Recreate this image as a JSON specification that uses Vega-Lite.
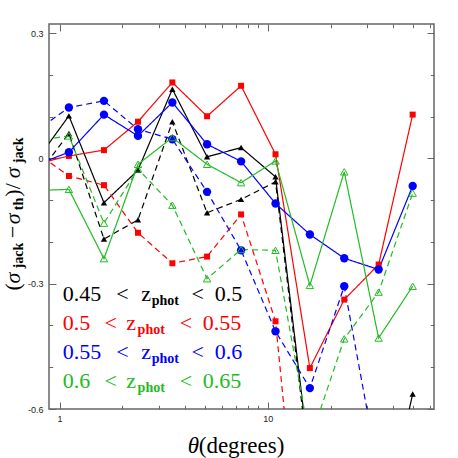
{
  "$schema": "https://vega.github.io/schema/vega-lite/v6.json",
  "width": 385,
  "height": 385,
  "autosize": {"type": "none"},
  "padding": {"left": 49, "top": 24, "right": 24, "bottom": 49},
  "background": "white",
  "config": {
    "view": {"stroke": "#666", "strokeWidth": 1.5},
    "axis": {"domain": false, "grid": false}
  },
  "resolve": {"axis": {"x": "independent", "y": "independent"}},
  "datasets": {
    "series": [
      {"bin": "0.45-0.5", "kind": "solid", "theta": 0.757, "v": -0.012},
      {"bin": "0.45-0.5", "kind": "solid", "theta": 1.109, "v": 0.102},
      {"bin": "0.45-0.5", "kind": "solid", "theta": 1.634, "v": -0.106},
      {"bin": "0.45-0.5", "kind": "solid", "theta": 2.38, "v": -0.028},
      {"bin": "0.45-0.5", "kind": "solid", "theta": 3.481, "v": 0.166},
      {"bin": "0.45-0.5", "kind": "solid", "theta": 5.109, "v": 0.004},
      {"bin": "0.45-0.5", "kind": "solid", "theta": 7.443, "v": 0.026},
      {"bin": "0.45-0.5", "kind": "solid", "theta": 10.89, "v": -0.044},
      {"bin": "0.45-0.5", "kind": "solid", "theta": 15.92, "v": -0.73},
      {"bin": "0.45-0.5", "kind": "solid", "theta": 23.28, "v": -1.1},
      {"bin": "0.45-0.5", "kind": "solid", "theta": 34.05, "v": -0.93},
      {"bin": "0.45-0.5", "kind": "solid", "theta": 49.61, "v": -0.564},
      {"bin": "0.45-0.5", "kind": "dashed", "theta": 0.757, "v": -0.05},
      {"bin": "0.45-0.5", "kind": "dashed", "theta": 1.109, "v": 0.06},
      {"bin": "0.45-0.5", "kind": "dashed", "theta": 1.634, "v": -0.193},
      {"bin": "0.45-0.5", "kind": "dashed", "theta": 2.38, "v": -0.147},
      {"bin": "0.45-0.5", "kind": "dashed", "theta": 3.481, "v": 0.088},
      {"bin": "0.45-0.5", "kind": "dashed", "theta": 5.109, "v": -0.13},
      {"bin": "0.45-0.5", "kind": "dashed", "theta": 7.443, "v": -0.098},
      {"bin": "0.45-0.5", "kind": "dashed", "theta": 10.89, "v": -0.056},
      {"bin": "0.45-0.5", "kind": "dashed", "theta": 15.92, "v": -0.75},
      {"bin": "0.5-0.55", "kind": "solid", "theta": 0.757, "v": -0.014},
      {"bin": "0.5-0.55", "kind": "solid", "theta": 1.109, "v": 0.006},
      {"bin": "0.5-0.55", "kind": "solid", "theta": 1.634, "v": 0.02},
      {"bin": "0.5-0.55", "kind": "solid", "theta": 2.38, "v": 0.088},
      {"bin": "0.5-0.55", "kind": "solid", "theta": 3.481, "v": 0.182},
      {"bin": "0.5-0.55", "kind": "solid", "theta": 5.109, "v": 0.101},
      {"bin": "0.5-0.55", "kind": "solid", "theta": 7.443, "v": 0.174},
      {"bin": "0.5-0.55", "kind": "solid", "theta": 10.89, "v": 0.01},
      {"bin": "0.5-0.55", "kind": "solid", "theta": 15.92, "v": -0.502},
      {"bin": "0.5-0.55", "kind": "solid", "theta": 23.28, "v": -0.338},
      {"bin": "0.5-0.55", "kind": "solid", "theta": 34.05, "v": -0.254},
      {"bin": "0.5-0.55", "kind": "solid", "theta": 49.61, "v": 0.105},
      {"bin": "0.5-0.55", "kind": "dashed", "theta": 0.757, "v": 0.017},
      {"bin": "0.5-0.55", "kind": "dashed", "theta": 1.109, "v": -0.042},
      {"bin": "0.5-0.55", "kind": "dashed", "theta": 1.634, "v": -0.064},
      {"bin": "0.5-0.55", "kind": "dashed", "theta": 2.38, "v": -0.178},
      {"bin": "0.5-0.55", "kind": "dashed", "theta": 3.481, "v": -0.251},
      {"bin": "0.5-0.55", "kind": "dashed", "theta": 5.109, "v": -0.235},
      {"bin": "0.5-0.55", "kind": "dashed", "theta": 7.443, "v": -0.134},
      {"bin": "0.5-0.55", "kind": "dashed", "theta": 10.89, "v": -0.39},
      {"bin": "0.5-0.55", "kind": "dashed", "theta": 15.92, "v": -1.23},
      {"bin": "0.55-0.6", "kind": "solid", "theta": 0.757, "v": -0.017},
      {"bin": "0.55-0.6", "kind": "solid", "theta": 1.109, "v": 0.015},
      {"bin": "0.55-0.6", "kind": "solid", "theta": 1.634, "v": 0.105},
      {"bin": "0.55-0.6", "kind": "solid", "theta": 2.38, "v": 0.054},
      {"bin": "0.55-0.6", "kind": "solid", "theta": 3.481, "v": 0.134},
      {"bin": "0.55-0.6", "kind": "solid", "theta": 5.109, "v": 0.034},
      {"bin": "0.55-0.6", "kind": "solid", "theta": 7.443, "v": -0.007},
      {"bin": "0.55-0.6", "kind": "solid", "theta": 10.89, "v": -0.108},
      {"bin": "0.55-0.6", "kind": "solid", "theta": 15.92, "v": -0.182},
      {"bin": "0.55-0.6", "kind": "solid", "theta": 23.28, "v": -0.239},
      {"bin": "0.55-0.6", "kind": "solid", "theta": 34.05, "v": -0.266},
      {"bin": "0.55-0.6", "kind": "solid", "theta": 49.61, "v": -0.066},
      {"bin": "0.55-0.6", "kind": "dashed", "theta": 0.757, "v": 0.063},
      {"bin": "0.55-0.6", "kind": "dashed", "theta": 1.109, "v": 0.122},
      {"bin": "0.55-0.6", "kind": "dashed", "theta": 1.634, "v": 0.138},
      {"bin": "0.55-0.6", "kind": "dashed", "theta": 2.38, "v": 0.07},
      {"bin": "0.55-0.6", "kind": "dashed", "theta": 3.481, "v": 0.046},
      {"bin": "0.55-0.6", "kind": "dashed", "theta": 5.109, "v": -0.08},
      {"bin": "0.55-0.6", "kind": "dashed", "theta": 7.443, "v": -0.22},
      {"bin": "0.55-0.6", "kind": "dashed", "theta": 10.89, "v": -0.414},
      {"bin": "0.55-0.6", "kind": "dashed", "theta": 15.92, "v": -0.55},
      {"bin": "0.55-0.6", "kind": "dashed", "theta": 23.28, "v": -0.306},
      {"bin": "0.55-0.6", "kind": "dashed", "theta": 34.05, "v": -0.752},
      {"bin": "0.6-0.65", "kind": "solid", "theta": 0.757, "v": -0.077},
      {"bin": "0.6-0.65", "kind": "solid", "theta": 1.109, "v": -0.074},
      {"bin": "0.6-0.65", "kind": "solid", "theta": 1.634, "v": -0.24},
      {"bin": "0.6-0.65", "kind": "solid", "theta": 2.38, "v": -0.014},
      {"bin": "0.6-0.65", "kind": "solid", "theta": 3.481, "v": 0.05},
      {"bin": "0.6-0.65", "kind": "solid", "theta": 5.109, "v": -0.014},
      {"bin": "0.6-0.65", "kind": "solid", "theta": 7.443, "v": -0.058},
      {"bin": "0.6-0.65", "kind": "solid", "theta": 10.89, "v": -0.006},
      {"bin": "0.6-0.65", "kind": "solid", "theta": 15.92, "v": -0.304},
      {"bin": "0.6-0.65", "kind": "solid", "theta": 23.28, "v": -0.032},
      {"bin": "0.6-0.65", "kind": "solid", "theta": 34.05, "v": -0.43},
      {"bin": "0.6-0.65", "kind": "solid", "theta": 49.61, "v": -0.306},
      {"bin": "0.6-0.65", "kind": "dashed", "theta": 0.757, "v": 0.042},
      {"bin": "0.6-0.65", "kind": "dashed", "theta": 1.109, "v": 0.054},
      {"bin": "0.6-0.65", "kind": "dashed", "theta": 1.634, "v": -0.155},
      {"bin": "0.6-0.65", "kind": "dashed", "theta": 2.38, "v": -0.025},
      {"bin": "0.6-0.65", "kind": "dashed", "theta": 3.481, "v": -0.112},
      {"bin": "0.6-0.65", "kind": "dashed", "theta": 5.109, "v": -0.288},
      {"bin": "0.6-0.65", "kind": "dashed", "theta": 7.443, "v": -0.218},
      {"bin": "0.6-0.65", "kind": "dashed", "theta": 10.89, "v": -0.22},
      {"bin": "0.6-0.65", "kind": "dashed", "theta": 15.92, "v": -0.676},
      {"bin": "0.6-0.65", "kind": "dashed", "theta": 23.28, "v": -0.432},
      {"bin": "0.6-0.65", "kind": "dashed", "theta": 34.05, "v": -0.32},
      {"bin": "0.6-0.65", "kind": "dashed", "theta": 49.61, "v": -0.083}
    ],
    "legendMain": [
      {"bin": "0.45-0.5", "t": "0.45", "theta": 1.037, "v": -0.3417},
      {"bin": "0.45-0.5", "t": "<", "theta": 1.873, "v": -0.3417},
      {"bin": "0.45-0.5", "t": "z", "theta": 2.471, "v": -0.3417},
      {"bin": "0.45-0.5", "t": "<", "theta": 4.297, "v": -0.3417},
      {"bin": "0.45-0.5", "t": "0.5", "theta": 5.563, "v": -0.3417},
      {"bin": "0.5-0.55", "t": "0.5", "theta": 1.037, "v": -0.4104},
      {"bin": "0.5-0.55", "t": "<", "theta": 1.646, "v": -0.4104},
      {"bin": "0.5-0.55", "t": "z", "theta": 2.093, "v": -0.4104},
      {"bin": "0.5-0.55", "t": "<", "theta": 3.776, "v": -0.4104},
      {"bin": "0.5-0.55", "t": "0.55", "theta": 4.87, "v": -0.4104},
      {"bin": "0.55-0.6", "t": "0.55", "theta": 1.037, "v": -0.48},
      {"bin": "0.55-0.6", "t": "<", "theta": 1.873, "v": -0.48},
      {"bin": "0.55-0.6", "t": "z", "theta": 2.471, "v": -0.48},
      {"bin": "0.55-0.6", "t": "<", "theta": 4.297, "v": -0.48},
      {"bin": "0.55-0.6", "t": "0.6", "theta": 5.563, "v": -0.48},
      {"bin": "0.6-0.65", "t": "0.6", "theta": 1.037, "v": -0.5505},
      {"bin": "0.6-0.65", "t": "<", "theta": 1.646, "v": -0.5505},
      {"bin": "0.6-0.65", "t": "z", "theta": 2.093, "v": -0.5505},
      {"bin": "0.6-0.65", "t": "<", "theta": 3.776, "v": -0.5505},
      {"bin": "0.6-0.65", "t": "0.65", "theta": 4.87, "v": -0.5505}
    ],
    "legendSub": [
      {"bin": "0.45-0.5", "t": "phot", "theta": 2.769, "v": -0.3513},
      {"bin": "0.5-0.55", "t": "phot", "theta": 2.37, "v": -0.42},
      {"bin": "0.55-0.6", "t": "phot", "theta": 2.769, "v": -0.4896},
      {"bin": "0.6-0.65", "t": "phot", "theta": 2.37, "v": -0.56}
    ],
    "titleUp": [
      {"t": "(", "theta": 0.645, "v": -0.316},
      {"t": "−", "theta": 0.645, "v": -0.1913},
      {"t": ")", "theta": 0.645, "v": -0.0917},
      {"t": "/", "theta": 0.645, "v": -0.0737}
    ],
    "titleIt": [
      {"t": "σ", "theta": 0.645, "v": -0.2992},
      {"t": "σ", "theta": 0.645, "v": -0.1577},
      {"t": "σ", "theta": 0.645, "v": -0.0473}
    ],
    "titleSub": [
      {"t": "jack", "theta": 0.671, "v": -0.2633},
      {"t": "th", "theta": 0.671, "v": -0.1241},
      {"t": "jack", "theta": 0.671, "v": -0.0113}
    ],
    "xTitleIt": [{"t": "θ", "theta": 4.124, "v": -0.7048}],
    "xTitleUp": [{"t": "(degrees)", "theta": 4.66, "v": -0.7048}]
  },
  "layer": [
    {
      "mark": {"type": "rule", "color": "black", "strokeWidth": 1},
      "encoding": {
        "y": {"datum": 0, "type": "quantitative", "scale": {"domain": [-0.6, 0.322], "zero": false, "nice": false}, "axis": null}
      }
    },
    {
      "data": {"name": "series"},
      "mark": {"type": "line", "clip": true, "strokeWidth": 1.2},
      "encoding": {
        "x": {
          "field": "theta", "type": "quantitative",
          "scale": {"type": "log", "domain": [0.89, 62.8], "nice": false},
          "axis": {
            "orient": "bottom",
            "values": [1, 2, 3, 4, 5, 6, 7, 8, 9, 10, 20, 30, 40, 50, 60],
            "format": "~g",
            "labelExpr": "datum.value == 1 || datum.value == 10 ? datum.label : ''",
            "tickSize": {"condition": {"test": "datum.value == 1 || datum.value == 10", "value": -7}, "value": -3.7},
            "tickColor": "#666", "tickWidth": 1,
            "labelFont": "Liberation Sans", "labelFontSize": 9, "labelColor": "#222",
            "labelPadding": 12, "labelFlush": false, "labelOverlap": false,
            "title": null
          }
        },
        "y": {
          "field": "v", "type": "quantitative",
          "scale": {"domain": [-0.6, 0.322], "zero": false, "nice": false},
          "axis": {
            "orient": "left",
            "values": [-0.6, -0.5, -0.4, -0.3, -0.2, -0.1, 0, 0.1, 0.2, 0.3],
            "format": "~g",
            "labelExpr": "(datum.value == 0.3 || datum.value == 0 || datum.value == -0.3 || datum.value == -0.6) ? replace(datum.label, '−', '-') : ''",
            "tickSize": {"condition": {"test": "datum.value == 0.3 || datum.value == 0 || datum.value == -0.3 || datum.value == -0.6", "value": -7}, "value": -3.7},
            "tickColor": "#666", "tickWidth": 1,
            "labelFont": "Liberation Sans", "labelFontSize": 9, "labelColor": "#222",
            "labelPadding": 13, "labelFlush": false, "labelOverlap": false,
            "title": null
          }
        },
        "color": {
          "field": "bin", "type": "nominal",
          "scale": {"domain": ["0.45-0.5", "0.5-0.55", "0.55-0.6", "0.6-0.65"], "range": ["#000000", "#ff0000", "#0000ff", "#22bb22"]},
          "legend": null
        },
        "strokeDash": {
          "field": "kind", "type": "nominal",
          "scale": {"domain": ["solid", "dashed"], "range": [[1, 0], [6, 4]]},
          "legend": null
        }
      }
    },
    {
      "data": {"name": "series"},
      "transform": [{"filter": "datum.bin == '0.45-0.5'"}],
      "mark": {"type": "point", "shape": "triangle-up", "filled": true, "opacity": 1, "size": 40, "clip": true},
      "encoding": {
        "x": {
          "field": "theta", "type": "quantitative",
          "axis": {
            "orient": "top",
            "values": [1, 2, 3, 4, 5, 6, 7, 8, 9, 10, 20, 30, 40, 50, 60],
            "labels": false,
            "tickSize": {"condition": {"test": "datum.value == 1 || datum.value == 10", "value": -7}, "value": -3.7},
            "tickColor": "#666", "tickWidth": 1, "title": null
          }
        },
        "y": {
          "field": "v", "type": "quantitative",
          "axis": {
            "orient": "right",
            "values": [-0.6, -0.5, -0.4, -0.3, -0.2, -0.1, 0, 0.1, 0.2, 0.3],
            "labels": false,
            "tickSize": {"condition": {"test": "datum.value == 0.3 || datum.value == 0 || datum.value == -0.3 || datum.value == -0.6", "value": -7}, "value": -3.7},
            "tickColor": "#666", "tickWidth": 1, "title": null
          }
        },
        "color": {"field": "bin", "type": "nominal", "legend": null}
      }
    },
    {
      "data": {"name": "series"},
      "transform": [{"filter": "datum.bin == '0.5-0.55'"}],
      "mark": {"type": "point", "shape": "square", "filled": true, "opacity": 1, "size": 36, "clip": true},
      "encoding": {
        "x": {"field": "theta", "type": "quantitative", "axis": null},
        "y": {"field": "v", "type": "quantitative", "axis": null},
        "color": {"field": "bin", "type": "nominal", "legend": null}
      }
    },
    {
      "data": {"name": "series"},
      "transform": [{"filter": "datum.bin == '0.55-0.6'"}],
      "mark": {"type": "point", "shape": "circle", "filled": true, "opacity": 1, "size": 70, "clip": true},
      "encoding": {
        "x": {"field": "theta", "type": "quantitative", "axis": null},
        "y": {"field": "v", "type": "quantitative", "axis": null},
        "color": {"field": "bin", "type": "nominal", "legend": null}
      }
    },
    {
      "data": {"name": "series"},
      "transform": [{"filter": "datum.bin == '0.6-0.65'"}],
      "mark": {"type": "point", "shape": "triangle-up", "filled": false, "opacity": 1, "size": 55, "strokeWidth": 1, "clip": true},
      "encoding": {
        "x": {"field": "theta", "type": "quantitative", "axis": null},
        "y": {"field": "v", "type": "quantitative", "axis": null},
        "color": {"field": "bin", "type": "nominal", "legend": null}
      }
    },
    {
      "data": {"name": "legendMain"},
      "mark": {"type": "text", "font": "Liberation Serif", "fontSize": 22, "align": "left", "baseline": "alphabetic"},
      "encoding": {
        "x": {"field": "theta", "type": "quantitative", "axis": null},
        "y": {"field": "v", "type": "quantitative", "axis": null},
        "text": {"field": "t"},
        "color": {"field": "bin", "type": "nominal", "legend": null}
      }
    },
    {
      "data": {"name": "legendSub"},
      "mark": {"type": "text", "font": "Liberation Serif", "fontSize": 14, "fontWeight": "bold", "align": "left", "baseline": "alphabetic"},
      "encoding": {
        "x": {"field": "theta", "type": "quantitative", "axis": null},
        "y": {"field": "v", "type": "quantitative", "axis": null},
        "text": {"field": "t"},
        "color": {"field": "bin", "type": "nominal", "legend": null}
      }
    },
    {
      "data": {"name": "titleUp"},
      "mark": {"type": "text", "font": "Liberation Serif", "fontSize": 22, "angle": 270, "align": "left", "baseline": "alphabetic", "color": "black"},
      "encoding": {
        "x": {"field": "theta", "type": "quantitative", "axis": null},
        "y": {"field": "v", "type": "quantitative", "axis": null},
        "text": {"field": "t"}
      }
    },
    {
      "data": {"name": "titleIt"},
      "mark": {"type": "text", "font": "Liberation Serif", "fontSize": 22, "fontStyle": "italic", "angle": 270, "align": "left", "baseline": "alphabetic", "color": "black"},
      "encoding": {
        "x": {"field": "theta", "type": "quantitative", "axis": null},
        "y": {"field": "v", "type": "quantitative", "axis": null},
        "text": {"field": "t"}
      }
    },
    {
      "data": {"name": "titleSub"},
      "mark": {"type": "text", "font": "Liberation Serif", "fontSize": 14, "fontWeight": "bold", "angle": 270, "align": "left", "baseline": "alphabetic", "color": "black"},
      "encoding": {
        "x": {"field": "theta", "type": "quantitative", "axis": null},
        "y": {"field": "v", "type": "quantitative", "axis": null},
        "text": {"field": "t"}
      }
    },
    {
      "data": {"name": "xTitleIt"},
      "mark": {"type": "text", "font": "Liberation Serif", "fontSize": 23, "fontStyle": "italic", "align": "left", "baseline": "alphabetic", "color": "black"},
      "encoding": {
        "x": {"field": "theta", "type": "quantitative", "axis": null},
        "y": {"field": "v", "type": "quantitative", "axis": null},
        "text": {"field": "t"}
      }
    },
    {
      "data": {"name": "xTitleUp"},
      "mark": {"type": "text", "font": "Liberation Serif", "fontSize": 23, "align": "left", "baseline": "alphabetic", "color": "black"},
      "encoding": {
        "x": {"field": "theta", "type": "quantitative", "axis": null},
        "y": {"field": "v", "type": "quantitative", "axis": null},
        "text": {"field": "t"}
      }
    }
  ]
}
